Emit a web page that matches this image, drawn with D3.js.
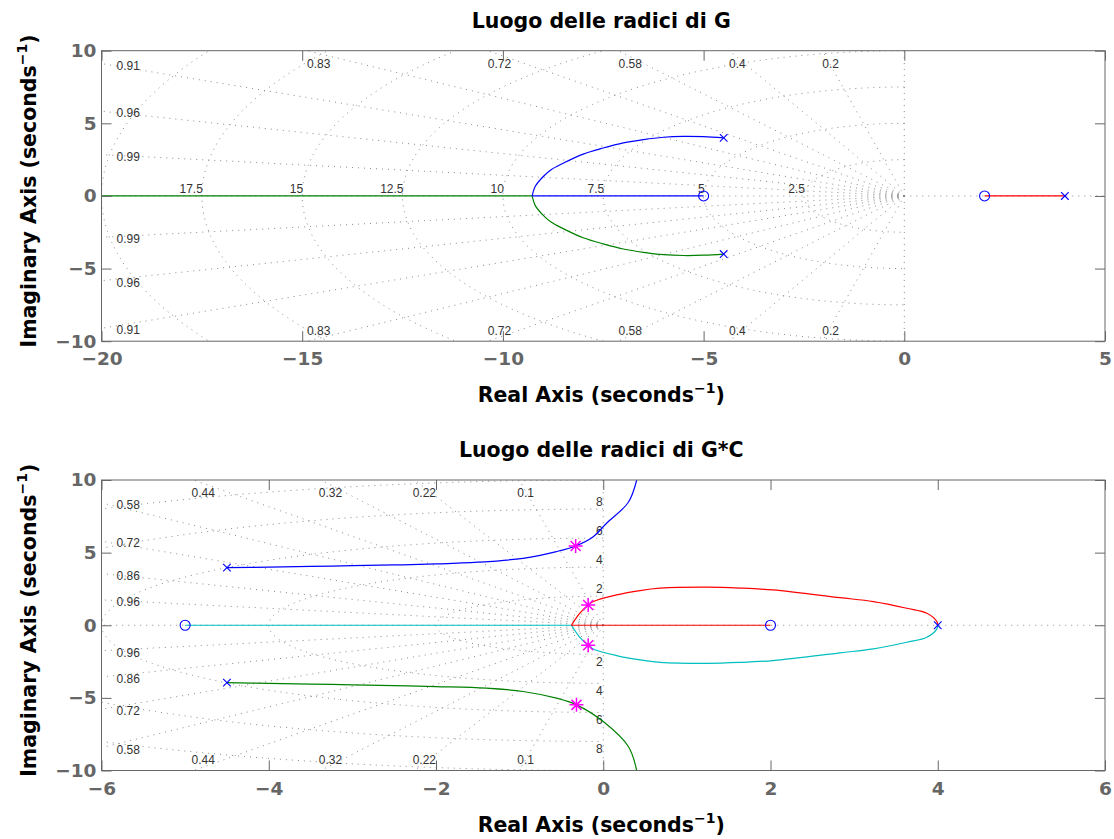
<!DOCTYPE html>
<html>
<head>
<meta charset="utf-8">
<script src="https://cdn.jsdelivr.net/npm/d3@7"></script>
<style>
  html, body { margin: 0; padding: 0; background: #fff; }
  svg { display: block; }
</style>
</head>
<body>
<svg id="chart" width="1114" height="839"></svg>
<script>
// ---------------- DATA ----------------
// Top plot: root locus of G
const topTitle = "Luogo delle radici di G";
const topXDomain = [-20, 5];
const topYDomain = [-10, 10];
const topXTicks = [-20, -15, -10, -5, 0, 5];
const topYTicks = [-10, -5, 0, 5, 10];
const topZeta = [0.2, 0.4, 0.58, 0.72, 0.83, 0.91, 0.96, 0.99];
const topZetaLabels = ["0.2", "0.4", "0.58", "0.72", "0.83", "0.91", "0.96", "0.99"];
const topWn = [2.5, 5, 7.5, 10, 12.5, 15, 17.5, 20];
const topWnLabels = ["2.5", "5", "7.5", "10", "12.5", "15", "17.5", ""];
const topPoles = [[-4.5, 4.0], [-4.5, -4.0], [4.0, 0]];
const topZeros = [[-5.0, 0], [2.0, 0]];
const topBlueArc = [[-4.5, 4.0], [-5.0, 4.08], [-5.5, 4.1], [-6.0, 4.04], [-6.5, 3.88], [-7.0, 3.65],
  [-7.5, 3.3], [-8.0, 2.88], [-8.5, 2.25], [-8.8, 1.8], [-9.0, 1.32], [-9.2, 0.63], [-9.27, 0]];
const topBlueAxis = [[-9.27, 0], [-5.0, 0]];
const topGreenArc = [[-4.5, -4.0], [-5.0, -4.08], [-5.5, -4.1], [-6.0, -4.04], [-6.5, -3.88], [-7.0, -3.65],
  [-7.5, -3.3], [-8.0, -2.88], [-8.5, -2.25], [-8.8, -1.8], [-9.0, -1.32], [-9.2, -0.63], [-9.27, 0]];
const topGreenAxis = [[-9.27, 0], [-21, 0]];
const topRedAxis = [[4.0, 0], [2.0, 0]];

// Bottom plot: root locus of G*C
const botTitle = "Luogo delle radici di G*C";
const botXDomain = [-6, 6];
const botYDomain = [-10, 10];
const botXTicks = [-6, -4, -2, 0, 2, 4, 6];
const botYTicks = [-10, -5, 0, 5, 10];
const botZeta = [0.1, 0.22, 0.32, 0.44, 0.58, 0.72, 0.86, 0.96];
const botZetaLabels = ["0.1", "0.22", "0.32", "0.44", "0.58", "0.72", "0.86", "0.96"];
const botWn = [2, 4, 6, 8, 10];
const botWnLabels = ["2", "4", "6", "8", ""];
const botPoles = [[-4.5, 3.97], [-4.5, -3.95], [4.0, 0]];
const botZeros = [[-5.0, 0], [2.0, 0]];
const botBlueArc = [[-4.5, 3.97], [-4.0, 4.0], [-3.5, 4.05], [-3.0, 4.1], [-2.5, 4.15], [-2.0, 4.22],
  [-1.5, 4.34], [-0.96, 4.61], [-0.56, 5.07], [-0.33, 5.46], [-0.12, 6.1], [0.04, 7.02], [0.30, 8.47], [0.40, 10.0]];
const botGreenArc = [[-4.5, -3.95], [-4.0, -4.0], [-3.5, -4.05], [-3.0, -4.1], [-2.5, -4.15], [-2.0, -4.22],
  [-1.4, -4.33], [-0.96, -4.56], [-0.56, -5.02], [-0.32, -5.48], [0.0, -6.63], [0.30, -8.35], [0.40, -10.0]];
const botRedArc = [[4.0, 0], [3.99, 0.25], [3.87, 0.83], [3.63, 1.17], [3.23, 1.63], [2.83, 1.9], [2.03, 2.43],
  [1.63, 2.56], [1.24, 2.62], [0.68, 2.55], [0.44, 2.39], [0.16, 2.09], [-0.12, 1.63], [-0.18, 1.40],
  [-0.28, 0.83], [-0.38, 0]];
const botRedAxis = [[-0.38, 0], [2.0, 0]];
const botCyanArc = [[4.0, 0], [3.99, -0.25], [3.87, -0.83], [3.63, -1.17], [3.23, -1.63], [2.83, -1.9], [2.03, -2.43],
  [1.63, -2.56], [1.24, -2.62], [0.68, -2.55], [0.44, -2.39], [0.16, -2.09], [-0.12, -1.63], [-0.18, -1.38],
  [-0.28, -0.83], [-0.38, 0]];
const botCyanAxis = [[-0.38, 0], [-5.0, 0]];
const botStars = [[-0.33, 5.46], [-0.18, 1.40], [-0.18, -1.38], [-0.32, -5.48]];

// ---------------- DRAWING ----------------
const svg = d3.select("#chart");
const FONT = '"Liberation Sans", Arial, Helvetica, sans-serif';
const BFONT = '"DejaVu Sans", "Liberation Sans", Arial, sans-serif';
const GRID = "#8a8a8a";
const AXC = "#666666";

function panel(cfg) {
  const L = 101.5, R = 1105, T = cfg.top, B = cfg.top + 290.5;
  const x = d3.scaleLinear().domain(cfg.xd).range([L, R]);
  const y = d3.scaleLinear().domain(cfg.yd).range([B, T]);
  const g = svg.append("g");
  const clipId = "clip" + cfg.id;
  svg.append("defs").append("clipPath").attr("id", clipId)
    .append("rect").attr("x", L).attr("y", T).attr("width", R - L).attr("height", B - T);

  const line = d3.line().x(d => x(d[0])).y(d => y(d[1]));
  const smooth = d3.line().x(d => x(d[0])).y(d => y(d[1])).curve(d3.curveCatmullRom.alpha(0.5));
  const grid = g.append("g").attr("clip-path", `url(#${clipId})`)
    .attr("fill", "none").attr("stroke", GRID).attr("stroke-width", 1).attr("stroke-dasharray", "1,5");

  // damping rays (from origin outward)
  const Rbig = 200;
  cfg.zeta.forEach(z => {
    const s = Math.sqrt(1 - z * z);
    [1, -1].forEach(sg => grid.append("path").attr("d", line([[0, 0], [-Rbig * z, sg * Rbig * s]])));
  });
  [[0, Rbig], [0, -Rbig], [-Rbig, 0], [Rbig, 0]].forEach(p => grid.append("path").attr("d", line([[0, 0], p])));
  // natural frequency semicircles (left half plane)
  cfg.wn.forEach(w => {
    const pts = d3.range(0, 181).map(i => {
      const a = Math.PI / 2 + i * Math.PI / 180;
      return [w * Math.cos(a), w * Math.sin(a)];
    });
    grid.append("path").attr("d", line(pts));
  });

  // grid labels
  const lab = g.append("g").attr("font-family", FONT).attr("font-size", 12).attr("fill", "#333");
  cfg.zeta.forEach((z, i) => {
    const s = Math.sqrt(1 - z * z);
    const xr = -cfg.yd[1] * z / s;
    [1, -1].forEach(sg => {
      if (xr >= cfg.xd[0]) {
        lab.append("text").attr("x", x(xr) + cfg.zOff).attr("y", sg > 0 ? T + 17 : B - 6.5)
          .attr("text-anchor", "start").text(cfg.zetaLabels[i]);
      } else {
        const yi = -cfg.xd[0] * s / z * sg;
        lab.append("text").attr("x", L + 15).attr("y", y(yi) + 6)
          .attr("text-anchor", "start").text(cfg.zetaLabels[i]);
      }
    });
  });
  cfg.wn.forEach((w, i) => {
    if (!cfg.wnLabels[i]) return;
    if (cfg.wnOnImag) {
      lab.append("text").attr("x", x(0) - 0.5).attr("y", y(w) - 3).attr("text-anchor", "end").text(cfg.wnLabels[i]);
      lab.append("text").attr("x", x(0) - 0.5).attr("y", y(-w) + 12).attr("text-anchor", "end").text(cfg.wnLabels[i]);
    } else {
      lab.append("text").attr("x", x(-w) + 1).attr("y", y(0) - 3).attr("text-anchor", "end").text(cfg.wnLabels[i]);
    }
  });

  // locus branches
  const lg = g.append("g").attr("clip-path", `url(#${clipId})`).attr("fill", "none").attr("stroke-width", 1.2);
  cfg.branches.forEach(b => lg.append("path").attr("d", (b.smooth ? smooth : line)(b.data)).attr("stroke", b.color));

  // markers
  const mk = g.append("g").attr("fill", "none").attr("stroke", "#0000ff").attr("stroke-width", 1.1);
  cfg.poles.forEach(p => {
    const px = x(p[0]), py = y(p[1]), h = 3.8;
    mk.append("path").attr("d", `M${px - h},${py - h}L${px + h},${py + h}M${px - h},${py + h}L${px + h},${py - h}`);
  });
  cfg.zeros.forEach(p => mk.append("circle").attr("cx", x(p[0])).attr("cy", y(p[1])).attr("r", 5));
  (cfg.stars || []).forEach(p => {
    const px = x(p[0]), py = y(p[1]), h = 7, d = 5;
    mk.append("path").attr("stroke", "#ff00ff").attr("stroke-width", 1.5)
      .attr("d", `M${px - h},${py}L${px + h},${py}M${px},${py - h}L${px},${py + h}` +
        `M${px - d},${py - d}L${px + d},${py + d}M${px - d},${py + d}L${px + d},${py - d}`);
  });

  // axes (ticks inward)
  const fmt = d3.format("d");
  const ax = g.append("g");
  ax.append("g").attr("transform", `translate(0,${B})`)
    .call(d3.axisBottom(x).tickValues(cfg.xt).tickSizeInner(-10).tickSizeOuter(0).tickPadding(11).tickFormat(fmt));
  ax.append("g").attr("transform", `translate(0,${T})`)
    .call(d3.axisTop(x).tickValues(cfg.xt).tickSizeInner(-10).tickSizeOuter(0).tickFormat(""));
  ax.append("g").attr("transform", `translate(${L},0)`)
    .call(d3.axisLeft(y).tickValues(cfg.yt).tickSizeInner(-10).tickSizeOuter(0).tickPadding(5).tickFormat(fmt));
  ax.append("g").attr("transform", `translate(${R},0)`)
    .call(d3.axisRight(y).tickValues(cfg.yt).tickSizeInner(-10).tickSizeOuter(0).tickFormat(""));
  ax.selectAll(".domain").remove();
  ax.selectAll(".tick line").attr("stroke", AXC).attr("stroke-width", 1);
  ax.selectAll(".tick text").attr("fill", AXC).attr("font-family", BFONT).attr("font-size", 18.5).attr("font-weight", "bold");
  g.append("rect").attr("x", L).attr("y", T).attr("width", R - L).attr("height", B - T)
    .attr("fill", "none").attr("stroke", AXC).attr("stroke-width", 1);

  // titles and axis labels
  const cx = (L + R) / 2, cy = (T + B) / 2;
  g.append("text").attr("x", cx - 2).attr("y", T - 23).attr("text-anchor", "middle")
    .attr("font-family", BFONT).attr("font-size", 20.5).attr("font-weight", "bold").attr("fill", "#000").text(cfg.title);
  const xl = g.append("text").attr("x", cx - 2).attr("y", B + 61).attr("text-anchor", "middle")
    .attr("font-family", BFONT).attr("font-size", 20.5).attr("font-weight", "bold").attr("fill", "#000");
  xl.append("tspan").text("Real Axis (seconds");
  xl.append("tspan").attr("font-size", 14).attr("dy", -9).text("\u22121");
  xl.append("tspan").attr("dy", 9).text(")");
  const yl = g.append("text").attr("transform", `translate(36,${cy - 5}) rotate(-90)`).attr("text-anchor", "middle")
    .attr("font-family", BFONT).attr("font-size", 20.5).attr("font-weight", "bold").attr("fill", "#000");
  yl.append("tspan").text("Imaginary Axis (seconds");
  yl.append("tspan").attr("font-size", 14).attr("dy", -9).text("\u22121");
  yl.append("tspan").attr("dy", 9).text(")");
}

panel({
  id: "top", top: 50.7, xd: topXDomain, yd: topYDomain, xt: topXTicks, yt: topYTicks,
  zeta: topZeta, zetaLabels: topZetaLabels, wn: topWn, wnLabels: topWnLabels, wnOnImag: false, zOff: 0,
  title: topTitle, poles: topPoles, zeros: topZeros,
  branches: [
    { data: topGreenAxis, color: "#008000" }, { data: topGreenArc, color: "#008000", smooth: true },
    { data: topBlueAxis, color: "#0000ff" }, { data: topBlueArc, color: "#0000ff", smooth: true },
    { data: topRedAxis, color: "#ff0000" }]
});
panel({
  id: "bot", top: 480, xd: botXDomain, yd: botYDomain, xt: botXTicks, yt: botYTicks,
  zeta: botZeta, zetaLabels: botZetaLabels, wn: botWn, wnLabels: botWnLabels, wnOnImag: true, zOff: -2,
  title: botTitle, poles: botPoles, zeros: botZeros, stars: botStars,
  branches: [
    { data: botBlueArc, color: "#0000ff", smooth: true }, { data: botGreenArc, color: "#008000", smooth: true },
    { data: botCyanAxis, color: "#00bfbf" }, { data: botCyanArc, color: "#00bfbf", smooth: true },
    { data: botRedAxis, color: "#ff0000" }, { data: botRedArc, color: "#ff0000", smooth: true }]
});
</script>
</body>
</html>
